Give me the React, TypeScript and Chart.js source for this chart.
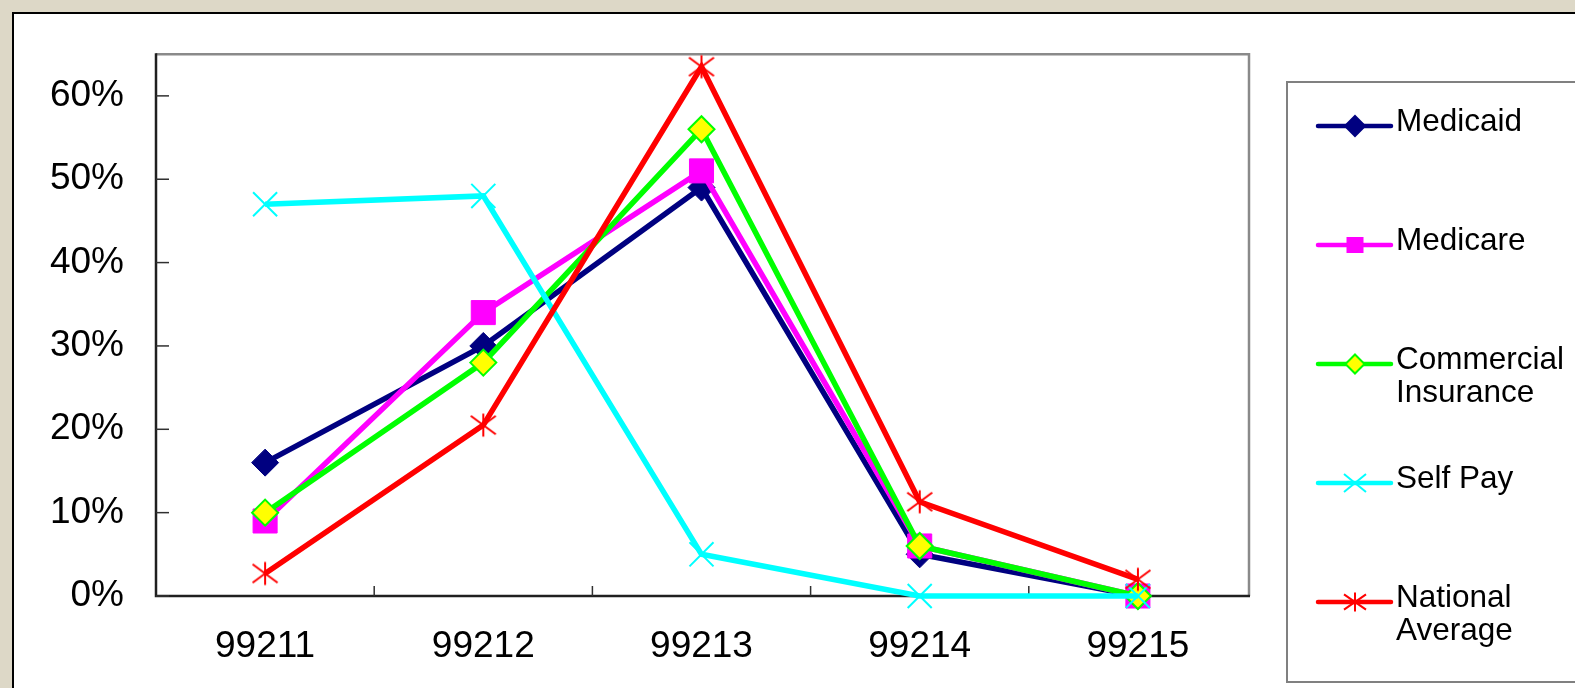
import React, { useEffect, useRef } from 'react';
import { Chart, registerables } from 'chart.js';

Chart.register(...registerables);

const categories = ['99211', '99212', '99213', '99214', '99215'];
const medicaid = [16, 30, 49, 5, 0];
const medicare = [9, 34, 51, 6, 0];
const commercial = [10, 28, 56, 6, 0];
const selfPay = [47, 48, 5, 0, 0];
const nationalAverage = [2.7, 20.5, 63.5, 11.3, 2];
const seriesLabels = [['Medicaid'], ['Medicare'], ['Commercial', 'Insurance'], ['Self Pay'], ['National', 'Average']];
const yMax = 65;
const yTickMax = 60;
const yStep = 10;

const FONT = '"Liberation Sans", Arial, Helvetica, sans-serif';

type MarkerKind = 'diamond' | 'square' | 'x' | 'star';
const seriesLine = ['#000080', '#FF00FF', '#00FF00', '#00FFFF', '#FF0000'];
const seriesFill = ['#000080', '#FF00FF', '#FFFF00', '#00FFFF', '#FF0000'];
const seriesMarker: MarkerKind[] = ['diamond', 'square', 'diamond', 'x', 'star'];

function drawMarker(ctx: CanvasRenderingContext2D, kind: MarkerKind, x: number, y: number, hw: number, hh: number, fill: string, stroke: string) {
  ctx.save();
  ctx.fillStyle = fill;
  ctx.strokeStyle = stroke;
  ctx.lineWidth = 2;
  ctx.beginPath();
  if (kind === 'diamond') {
    ctx.moveTo(x, y - hh);
    ctx.lineTo(x + hw, y);
    ctx.lineTo(x, y + hh);
    ctx.lineTo(x - hw, y);
    ctx.closePath();
    ctx.fill();
    ctx.stroke();
  } else if (kind === 'square') {
    ctx.rect(x - hw, y - hh, hw * 2, hh * 2);
    ctx.fill();
  } else if (kind === 'x') {
    ctx.moveTo(x - hw, y - hh);
    ctx.lineTo(x + hw, y + hh);
    ctx.moveTo(x + hw, y - hh);
    ctx.lineTo(x - hw, y + hh);
    ctx.stroke();
  } else {
    ctx.moveTo(x, y - hh);
    ctx.lineTo(x, y + hh);
    ctx.moveTo(x - hw, y - hh * 0.8);
    ctx.lineTo(x + hw, y + hh * 0.8);
    ctx.moveTo(x + hw, y - hh * 0.8);
    ctx.lineTo(x - hw, y + hh * 0.8);
    ctx.stroke();
  }
  ctx.restore();
}

function makeMarkerCanvas(kind: MarkerKind, w: number, h: number, fill: string, stroke: string) {
  const c = document.createElement('canvas');
  c.width = w;
  c.height = h;
  const cx = c.getContext('2d')!;
  drawMarker(cx, kind, w / 2, h / 2, w / 2 - 1.5, h / 2 - 1.5, fill, stroke);
  return c;
}

const decorPlugin = {
  id: 'decor',
  beforeDraw(chart: any) {
    const ctx: CanvasRenderingContext2D = chart.ctx;
    ctx.save();
    ctx.fillStyle = '#FFFFFF';
    ctx.fillRect(13, 13, 1700, 800);
    ctx.strokeStyle = '#000000';
    ctx.lineWidth = 2;
    ctx.strokeRect(13, 13, 1700, 800);
    ctx.restore();
  },
  beforeDatasetsDraw(chart: any) {
    const ctx: CanvasRenderingContext2D = chart.ctx;
    const a = chart.chartArea;
    const xs = chart.scales.x;
    const ys = chart.scales.y;
    ctx.save();
    ctx.lineWidth = 2.5;
    ctx.strokeStyle = '#8A8A8A';
    ctx.beginPath();
    ctx.moveTo(a.left, a.top);
    ctx.lineTo(a.right + 2, a.top);
    ctx.lineTo(a.right + 2, a.bottom);
    ctx.stroke();
    ctx.strokeStyle = '#202020';
    ctx.beginPath();
    ctx.moveTo(a.left, a.top - 1);
    ctx.lineTo(a.left, a.bottom);
    ctx.lineTo(a.right + 3, a.bottom);
    ctx.stroke();
    ctx.lineWidth = 1.5;
    ctx.strokeStyle = '#303030';
    for (const t of ys.ticks) {
      const y = ys.getPixelForValue(t.value);
      ctx.beginPath();
      ctx.moveTo(a.left, y);
      ctx.lineTo(a.left + 13, y);
      ctx.stroke();
    }
    for (let i = 1; i < categories.length; i++) {
      const x = (xs.getPixelForValue(i - 1) + xs.getPixelForValue(i)) / 2;
      ctx.beginPath();
      ctx.moveTo(x, a.bottom);
      ctx.lineTo(x, a.bottom - 10);
      ctx.stroke();
    }
    ctx.restore();
  },
  afterDraw(chart: any) {
    const ctx: CanvasRenderingContext2D = chart.ctx;
    ctx.save();
    ctx.strokeStyle = '#808080';
    ctx.lineWidth = 2;
    ctx.strokeRect(1287, 82, 320, 600);
    ctx.font = `31.5px ${FONT}`;
    ctx.textBaseline = 'middle';
    ctx.textAlign = 'left';
    const startY = 122;
    const step = 119;
    const markerSizes: [number, number][] = [[10, 10], [8.5, 8], [9.5, 9.5], [11, 9], [11, 9.5]];
    seriesLabels.forEach((lines, i) => {
      const ty = startY + i * step;
      const ly = ty + 4;
      ctx.strokeStyle = seriesLine[i];
      ctx.lineWidth = 4.5;
      ctx.lineCap = 'round';
      ctx.beginPath();
      ctx.moveTo(1318, ly);
      ctx.lineTo(1391, ly);
      ctx.stroke();
      ctx.lineCap = 'butt';
      const [hw, hh] = markerSizes[i];
      drawMarker(ctx, seriesMarker[i], 1355, ly, hw, hh, seriesFill[i], seriesLine[i]);
      ctx.fillStyle = '#000000';
      lines.forEach((ln, j) => ctx.fillText(ln, 1396, ty + j * 33));
    });
    ctx.restore();
  },
};

export default function App() {
  const ref = useRef<HTMLCanvasElement | null>(null);

  useEffect(() => {
    if (!ref.current) return;
    const starImg = makeMarkerCanvas('star', 28, 26, '#FF0000', '#FF0000');
    const values = [medicaid, medicare, commercial, selfPay, nationalAverage];
    const pointStyles: any[] = ['rectRot', 'rect', 'rectRot', 'crossRot', starImg];
    const pointRadii = [13.5, 17, 13, 17, 13];
    const datasets = values.map((d, i) => ({
      label: seriesLabels[i].join(' '),
      data: d,
      borderColor: seriesLine[i],
      backgroundColor: seriesFill[i],
      pointBackgroundColor: seriesFill[i],
      pointBorderColor: seriesLine[i],
      pointBorderWidth: i === 2 || i === 3 ? 2 : 1,
      pointStyle: pointStyles[i],
      pointRadius: pointRadii[i],
      borderWidth: 5.5,
      tension: 0,
      clip: false as any,
      order: values.length - i,
    }));

    const chart = new Chart(ref.current, {
      type: 'line',
      data: { labels: categories, datasets },
      options: {
        animation: false,
        responsive: false,
        devicePixelRatio: 1,
        events: [],
        layout: { padding: { left: 0, top: 49, right: 328, bottom: 0 } },
        plugins: {
          legend: { display: false },
          tooltip: { enabled: false },
          title: { display: false },
        },
        scales: {
          x: {
            type: 'category',
            offset: true,
            grid: { display: false, drawTicks: false },
            border: { display: false },
            ticks: {
              color: '#000000',
              padding: 29,
              maxRotation: 0,
              font: { family: FONT, size: 37 },
            },
            afterFit(scale: any) {
              scale.height = 92;
            },
          },
          y: {
            min: 0,
            max: yMax,
            grid: { display: false, drawTicks: false },
            border: { display: false },
            ticks: {
              stepSize: yStep,
              color: '#000000',
              padding: 32,
              font: { family: FONT, size: 37 },
              callback: (v: any) => `${Math.round(Number(v))}%`,
            },
            afterBuildTicks(scale: any) {
              scale.ticks = scale.ticks.filter((t: any) => t.value <= yTickMax + 1e-6);
            },
            afterFit(scale: any) {
              scale.width = 156;
            },
          },
        },
      },
      plugins: [decorPlugin],
    });
    return () => chart.destroy();
  }, []);

  return (
    <div style={{ position: 'fixed', left: 0, top: 0, width: 1575, height: 688, background: '#DDD8C7', overflow: 'hidden' }}>
      <canvas ref={ref} width={1575} height={688} style={{ display: 'block', width: 1575, height: 688 }} />
    </div>
  );
}
